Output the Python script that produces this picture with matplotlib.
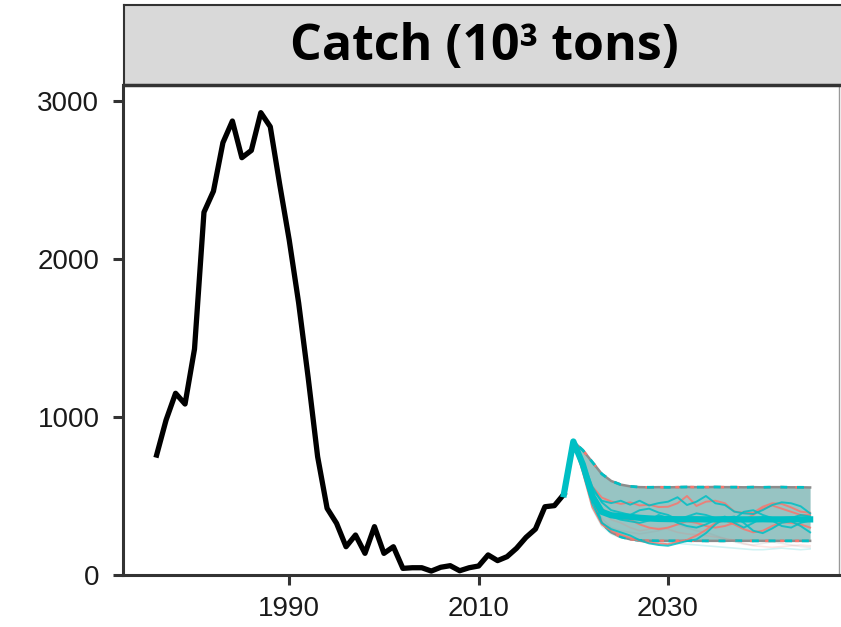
import numpy as np
import matplotlib
matplotlib.use('agg')
import matplotlib.pyplot as plt

# historical catch, 10^3 tons
hist_years = list(range(1976, 2020))
hist_catch = [759, 981, 1150, 1082, 1430, 2296, 2429, 2736, 2873, 2641,
              2687, 2926, 2837, 2470, 2120, 1720, 1250, 749, 422, 327,
              179, 253, 137, 306, 137, 179, 42, 46, 46, 25,
              49, 59, 27, 46, 57, 127, 91, 116, 169, 238,
              291, 432, 439, 511]

# projections 2019-2045
proj_years = list(range(2019, 2046))
proj_median = [511, 845, 700, 500, 400, 378, 372, 368, 362, 358, 355, 354, 353, 353, 353,
               352, 352, 353, 352, 352, 352, 353, 352, 352, 353, 352, 352]
proj_upper = [511, 845, 790, 715, 640, 595, 572, 561, 556, 555, 556, 555, 556, 557, 556,
              556, 557, 556, 556, 555, 556, 555, 556, 556, 555, 555, 554]
proj_lower = [511, 845, 680, 480, 330, 270, 242, 226, 219, 217, 216, 216, 216, 217, 216,
              216, 216, 216, 217, 216, 216, 216, 216, 216, 216, 216, 216]

teal_worms = [
    [511, 845, 700, 540, 470, 455, 470, 445, 470, 440, 455, 464, 492, 443, 464,
     500, 454, 443, 401, 390, 386, 411, 443, 460, 454, 435, 390],
    [511, 845, 660, 450, 330, 290, 270, 250, 220, 200, 190, 185, 200, 215, 225,
     265, 320, 360, 370, 330, 280, 265, 295, 330, 340, 310, 270],
    [511, 845, 680, 480, 400, 370, 350, 340, 330, 345, 380, 360, 330, 310, 300,
     320, 350, 370, 330, 300, 330, 365, 345, 310, 300, 330, 345],
    [511, 845, 720, 560, 460, 410, 395, 380, 410, 420, 395, 380, 350, 370, 390,
     380, 360, 340, 355, 400, 410, 380, 360, 345, 360, 380, 370],
]
salmon_worms = [
    [511, 845, 690, 560, 490, 465, 450, 460, 440, 445, 430, 432, 454, 500, 437,
     464, 470, 454, 401, 394, 394, 432, 454, 450, 428, 401, 394],
    [511, 845, 650, 430, 320, 280, 255, 235, 215, 205, 200, 195, 210, 222, 250,
     285, 330, 345, 320, 290, 270, 280, 310, 335, 330, 320, 300],
    [511, 845, 700, 520, 420, 380, 360, 350, 320, 300, 290, 300, 320, 340, 330,
     310, 300, 310, 330, 350, 380, 420, 440, 420, 400, 380, 380],
]
faint_worms = [
    [511, 845, 650, 420, 310, 260, 235, 225, 220, 215, 210, 205, 200, 195, 190,
     185, 180, 175, 170, 165, 160, 160, 165, 170, 165, 160, 165],
    [511, 845, 690, 500, 410, 350, 330, 300, 280, 290, 300, 290, 270, 260, 255,
     250, 240, 230, 220, 200, 185, 180, 175, 180, 185, 190, 185],
    [511, 845, 670, 470, 360, 300, 280, 270, 260, 270, 280, 300, 320, 300, 280,
     270, 250, 230, 210, 195, 190, 200, 210, 200, 190, 180, 175],
]

TEAL = "#00BFC4"
SALMON = "#F8766D"

W, H = 841, 627
fig = plt.figure(figsize=(W / 100, H / 100), dpi=100)

ax = fig.add_axes([123 / W, (H - 575) / H, (839 - 123) / W, (575 - 85) / H])

ax.plot(hist_years, hist_catch, color="black", lw=3.8, zorder=5)

# uncertainty band
band_x = proj_years[1:]
ax.fill_between(band_x, proj_lower[1:], proj_upper[1:], color="#97c4c3", lw=0, zorder=2)
for edge in (proj_upper, proj_lower):
    ax.plot(band_x, edge[1:], color="#8c8c8c", lw=1.8, zorder=3)
    ax.plot(band_x, edge[1:], color=SALMON, lw=1.8, ls=(0, (1.5, 4.5)), zorder=3)
    ax.plot(band_x, edge[1:], color=TEAL, lw=2.0, ls=(3, (2.5, 3.5)), zorder=3)

for i, w in enumerate(faint_worms):
    ax.plot(proj_years, w, color=[TEAL, SALMON, "#999999"][i], lw=1.2, alpha=0.18, zorder=3)
for w in salmon_worms:
    ax.plot(proj_years, w, color=SALMON, lw=1.4, alpha=0.85, zorder=4)
for w in teal_worms:
    ax.plot(proj_years, w, color=TEAL, lw=1.4, alpha=0.85, zorder=4)

ax.plot(proj_years, proj_median, color=TEAL, lw=4.5, zorder=6)

ax.set_xlim(1972.45, 2048.05)
ax.set_ylim(0, 3101)
ax.set_xticks([1990, 2010, 2030])
ax.set_yticks([0, 1000, 2000, 3000])

for s in ("left", "bottom"):
    ax.spines[s].set_color("#333333")
    ax.spines[s].set_linewidth(2.2)
ax.spines["top"].set_visible(False)
ax.spines["right"].set_color("#999999")
ax.spines["right"].set_linewidth(1.0)
ax.tick_params(length=7, width=2.2, color="#333333", labelsize=20, labelcolor="#1a1a1a")
ax.tick_params(axis="y", pad=10)
ax.tick_params(axis="x", pad=8)
for lab in ax.get_xticklabels() + ax.get_yticklabels():
    lab.set_family("Liberation Sans")

# facet strip
strip = fig.add_axes([124 / W, (H - 85) / H, (845 - 124) / W, 80 / H])
strip.set_facecolor("#D9D9D9")
strip.set_xticks([])
strip.set_yticks([])
for s in strip.spines.values():
    s.set_color("#333333")
    s.set_linewidth(1.5)
strip.spines["bottom"].set_linewidth(2.5)
strip.text(0.5, 0.47, "Catch (10\u00b3 tons)", transform=strip.transAxes, ha="center", va="center",
           fontsize=36, fontweight="bold", family="Open Sans", color="black")

fig.savefig("out.png", dpi=100)
